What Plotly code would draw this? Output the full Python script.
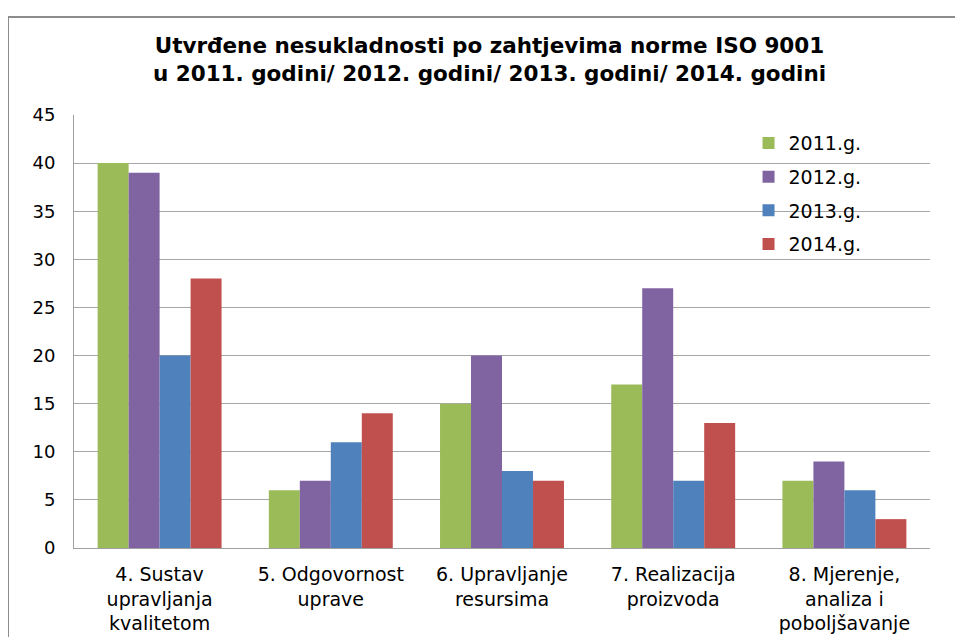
import plotly.graph_objects as go

categories = [
    "4. Sustav<br>upravljanja<br>kvalitetom",
    "5. Odgovornost<br>uprave",
    "6. Upravljanje<br>resursima",
    "7. Realizacija<br>proizvoda",
    "8. Mjerenje,<br>analiza i<br>poboljšavanje",
]
series_names = ["2011.g.", "2012.g.", "2013.g.", "2014.g."]
v2011 = [40, 6, 15, 17, 7]
v2012 = [39, 7, 20, 27, 9]
v2013 = [20, 11, 8, 7, 6]
v2014 = [28, 14, 7, 13, 3]
colors = ["#9BBB59", "#8064A2", "#4F81BD", "#C0504D"]
y_ticks = [0, 5, 10, 15, 20, 25, 30, 35, 40, 45]

FONT = "DejaVu Sans, Arial, sans-serif"

fig = go.Figure()
for name, vals, col in zip(series_names, [v2011, v2012, v2013, v2014], colors):
    fig.add_trace(go.Bar(
        x=categories, y=vals, name=name, legendgroup=name,
        marker=dict(color=col, line=dict(width=0)),
    ))

fig.update_layout(
    width=963, height=637,
    margin=dict(l=66, r=41, t=107, b=97, autoexpand=False),
    paper_bgcolor="white", plot_bgcolor="white",
    barmode="group", bargap=0.276, bargroupgap=0,
    font=dict(family=FONT, color="black"),
    title=dict(
        text="<b>Utvrđene nesukladnosti po zahtjevima norme ISO 9001<br>u 2011. godini/ 2012. godini/ 2013. godini/ 2014. godini</b>",
        x=0.5, xanchor="center", y=1 - 45 / 637, yanchor="middle",
        yref="container", font=dict(size=21.5, family=FONT, color="black"),
    ),
    xaxis=dict(
        showline=True, linecolor="#a0a0a0", linewidth=1, automargin=False,
        showgrid=False, tickfont=dict(size=19, color="black"),
        ticks="", ticklen=0, ticklabelstandoff=9,
    ),
    yaxis=dict(
        range=[0, 45], tickvals=y_ticks, showline=True, linecolor="#a0a0a0",
        linewidth=1, showgrid=True, gridcolor="#a6a6a6", gridwidth=1,
        zeroline=False, tickfont=dict(size=18, color="black"), automargin=False,
        ticks="", ticklabelstandoff=14,
    ),
    legend=dict(
        x=0.788, y=0.979, xanchor="left", yanchor="top",
        bgcolor="rgba(255,255,255,0)", font=dict(size=19, color="black"),
        tracegroupgap=6, itemwidth=30,
    ),
    shapes=[dict(
        type="rect", xref="paper", yref="paper",
        x0=(0 - 66) / 856, x1=1.2, y0=-0.3, y1=(540 - 9) / 433,
        line=dict(color="#8c8c8c", width=2), fillcolor="rgba(0,0,0,0)",
        layer="below",
    )],
)

fig.write_html("out.html")
